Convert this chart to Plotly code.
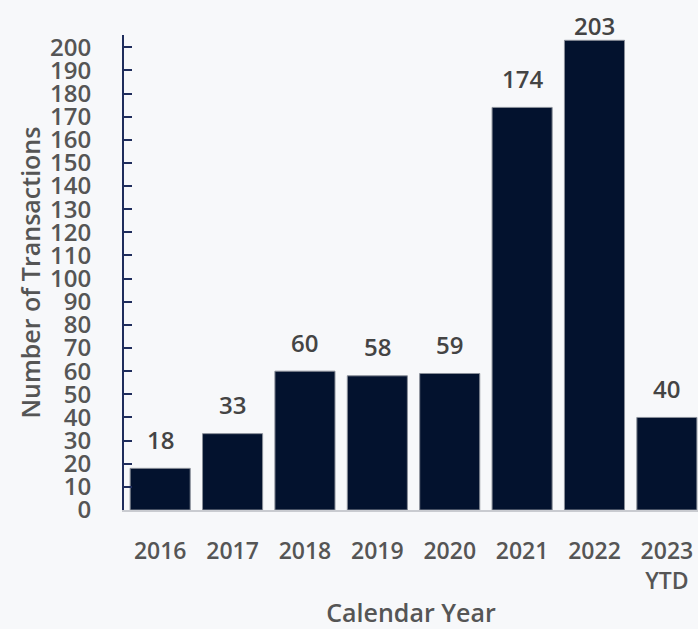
import plotly.graph_objects as go

years = ["2016", "2017", "2018", "2019", "2020", "2021", "2022", "2023<br>YTD"]
transactions = [18, 33, 60, 58, 59, 174, 203, 40]
y_ticks = list(range(0, 201, 10))

FONT = "Open Sans"
GRAY = "#555555"
BG = "#f7f8fa"
BAR = "#03122e"

fig = go.Figure()
fig.add_trace(go.Bar(
    x=years, y=transactions,
    marker=dict(color=BAR, line=dict(color="#8a8f99", width=1)),
    width=0.83,
    hoverinfo="skip",
))

annotations = []
for i, yv in enumerate(transactions):
    annotations.append(dict(
        x=i, y=min(yv + 4.5, 201.3), xref="x", yref="y",
        text=str(yv), showarrow=False, yanchor="bottom",
        font=dict(family=FONT, size=24, color="#444444", weight=600),
    ))

# y-axis title placed as a rotated annotation
annotations.append(dict(
    x=-0.1655, y=0.5, xref="paper", yref="paper",
    text="Number of Transactions", textangle=-90, showarrow=False,
    xanchor="center", yanchor="middle",
    font=dict(family=FONT, size=25, color=GRAY, weight=600),
))

fig.update_layout(
    width=698, height=629,
    paper_bgcolor=BG, plot_bgcolor=BG,
    margin=dict(l=124, r=0, t=35, b=119),
    showlegend=False,
    annotations=annotations,
    xaxis=dict(
        type="category",
        range=[-0.5, 7.43],
        showline=True, linecolor="#c9cbd0", linewidth=2,
        ticks="", ticklabelstandoff=19,
        tickfont=dict(family=FONT, size=23, color=GRAY, weight=600),
        title=dict(text="Calendar Year", standoff=16,
                   font=dict(family=FONT, size=25, color=GRAY, weight=600)),
        showgrid=False, zeroline=False,
    ),
    yaxis=dict(
        range=[0, 205.3],
        tickvals=y_ticks,
        showline=True, linecolor="#1f2d5c", linewidth=2,
        ticks="inside", ticklen=8, tickwidth=2, tickcolor="#1f2d5c",
        ticklabelstandoff=26,
        tickfont=dict(family=FONT, size=24, color=GRAY, weight=600),
        showgrid=False, zeroline=False,
    ),
)

fig.write_html("out.html",
               config={"displayModeBar": False},
               post_script="document.body.style.margin='0';document.body.style.overflow='hidden';document.body.style.background='" + BG + "';")
